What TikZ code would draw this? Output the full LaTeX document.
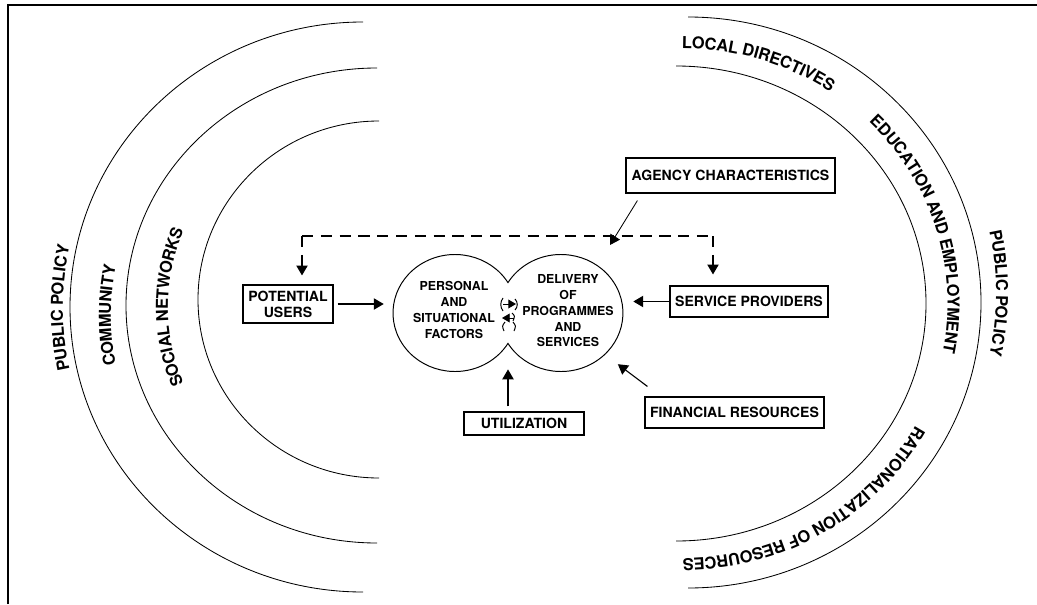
\documentclass[tikz,border=0pt]{standalone}
\usepackage{fontspec}
\setmainfont{TeX Gyre Heros}
\usetikzlibrary{arrows.meta,calc,shapes.geometric,decorations.text}

\newcommand\boxfont{\fontsize{10}{11.2}\selectfont\bfseries}
\newcommand\hubfont{\fontsize{8.8}{11.2}\selectfont\bfseries}
\newcommand\ringfont{\fontsize{11.7}{14}\selectfont\bfseries}

\tikzset{
  ring/.style={line width=0.6pt},
  tag/.style={draw, line width=0.8pt, inner sep=1pt, align=center, font=\boxfont},
  hub/.style={ellipse, minimum width=3.1cm, minimum height=2.925cm, inner sep=0pt},
  hubtext/.style={align=center, font=\hubfont, inner sep=0pt},
  arr/.style={line width=0.8pt, -{Triangle[length=7pt,width=8pt]}},
  swap/.style={line width=0.7pt},
  link/.style={line width=0.8pt, dash pattern=on 0.28cm off 0.19cm},
  ringtext/.style={decorate, decoration={text along path, text align=center,
      raise=-4.2pt, text={|\ringfont|#1}}}
}

\begin{document}
\begin{tikzpicture}[x=0.025cm, y=-0.025cm]
\useasboundingbox (0,0) rectangle (1037,604);
\draw[line width=1.3pt] (8,604) -- (8,5) -- (1037,5);

% rings on the left
\draw[ring] (363,22) arc[start angle=270, end angle=90, x radius=293, y radius=285];
\draw[ring] (377,68) arc[start angle=270, end angle=90, x radius=251, y radius=237.5];
\draw[ring] (379,121) arc[start angle=270, end angle=90, x radius=181, y radius=178.5];
% rings on the right
\draw[ring] (676,66) arc[start angle=-90, end angle=90, x radius=250, y radius=237.5];
\draw[ring] (688,17) arc[start angle=-90, end angle=90, x radius=293, y radius=285.5];

% ring labels
\path[ringtext=PUBLIC POLICY] ($(363,308)+(150:306 and 299)$)
  arc[start angle=150, end angle=210, x radius=306, y radius=299];
\path[ringtext=COMMUNITY] ($(370,315.5)+(150:265 and 254)$)
  arc[start angle=150, end angle=210, x radius=265, y radius=254];
\path[ringtext=SOCIAL NETWORKS] ($(377,307)+(135:215 and 207)$)
  arc[start angle=135, end angle=225, x radius=215, y radius=207];
\path[ringtext=PUBLIC POLICY] ($(688,293)+(-30:314 and 305)$)
  arc[start angle=-30, end angle=30, x radius=314, y radius=305];
\path[ringtext=LOCAL DIRECTIVES] ($(682,303.5)+(-98:271.5 and 261)$)
  arc[start angle=-98, end angle=-48, x radius=271.5, y radius=261];
\path[ringtext=EDUCATION AND EMPLOYMENT] ($(682,303.5)+(-57:271.5 and 261)$)
  arc[start angle=-57, end angle=23, x radius=271.5, y radius=261];
\path[ringtext=RATIONALIZATION OF RESOURCES] ($(682,303.5)+(19:271.5 and 261)$)
  arc[start angle=19, end angle=99, x radius=271.5, y radius=261];

% the two circles
\node[hub] (personal) at (455,313) {};
\node[hub] (delivery) at (561,313) {};
\node[hubtext] (personaltext) at (454,310) {PERSONAL\\AND\\SITUATIONAL\\FACTORS};
\node[hubtext] (deliverytext) at (568,311) {DELIVERY\\OF\\PROGRAMMES\\AND\\SERVICES};
\draw[line width=0.7pt] (personal.center) ++(-31.3:62 and 58.5)
  arc[start angle=-31.3, end angle=-328.7, x radius=62, y radius=58.5]
  arc[start angle=148.7, end angle=-148.7, x radius=62, y radius=58.5] -- cycle;
\coordinate (cuspb) at (508,343.4);

% exchange marks
\draw[swap] (503,298) .. controls (500,302) and (500,307) .. (503,311);
\draw[swap, -{Triangle[length=5.5pt,width=6.3pt]}] (503,304) -- (516,304);
\draw[swap] (515,299) .. controls (518,302) and (518,307) .. (515,310);
\draw[swap, -{Triangle[length=5.5pt,width=6.3pt]}] (514,318) -- (502,318);
\draw[swap] (512,313) .. controls (515,316) .. (513,321);
\draw[swap] (505,322) .. controls (502,326) .. (504,331);
\draw[swap] (513,322) .. controls (516,326) .. (514,331);

% boxes
\node[tag, minimum width=5.225cm, minimum height=0.875cm] (agency) at (730.5,175.5) {AGENCY CHARACTERISTICS};
\node[tag, minimum width=2.25cm, minimum height=0.95cm] (potential) at (288,304) {POTENTIAL\\USERS};
\node[tag, minimum width=3.95cm, minimum height=0.775cm] (service) at (749,301.5) {SERVICE PROVIDERS};
\node[tag, minimum width=4.475cm, minimum height=0.775cm] (finance) at (734.5,412.5) {FINANCIAL RESOURCES};
\node[tag, minimum width=3cm, minimum height=0.575cm] (util) at (524,423.5) {UTILIZATION};

% dashed feed from agency
\coordinate (dl) at (302,236);
\coordinate (dr) at (713,236);
\coordinate (agtip) at (610,245);
\draw[link] (dl) -- (dr);
\draw[link, arr, shorten >=0.225cm] (dl) -- (dl |- potential.north);
\draw[link, arr, shorten >=0.275cm] (dr) -- (dr |- service.north);
\draw[arr, line width=0.6pt] ($(agency.south west)+(12,7)$) -- (agtip);

% arrows into the circles
\draw[arr, shorten <=0.1cm, shorten >=0.225cm] (potential) -- (potential -| personal.west);
\draw[arr, shorten >=0.25cm] (service) -- (service -| delivery.east);
\draw[arr, shorten <=0.125cm, shorten >=0.65cm] (util.north -| cuspb) -- (cuspb);
\draw[arr, shorten >=0.4cm] ($(finance.north west)+(3,-10)$) -- (delivery.south east);
\end{tikzpicture}
\end{document}
